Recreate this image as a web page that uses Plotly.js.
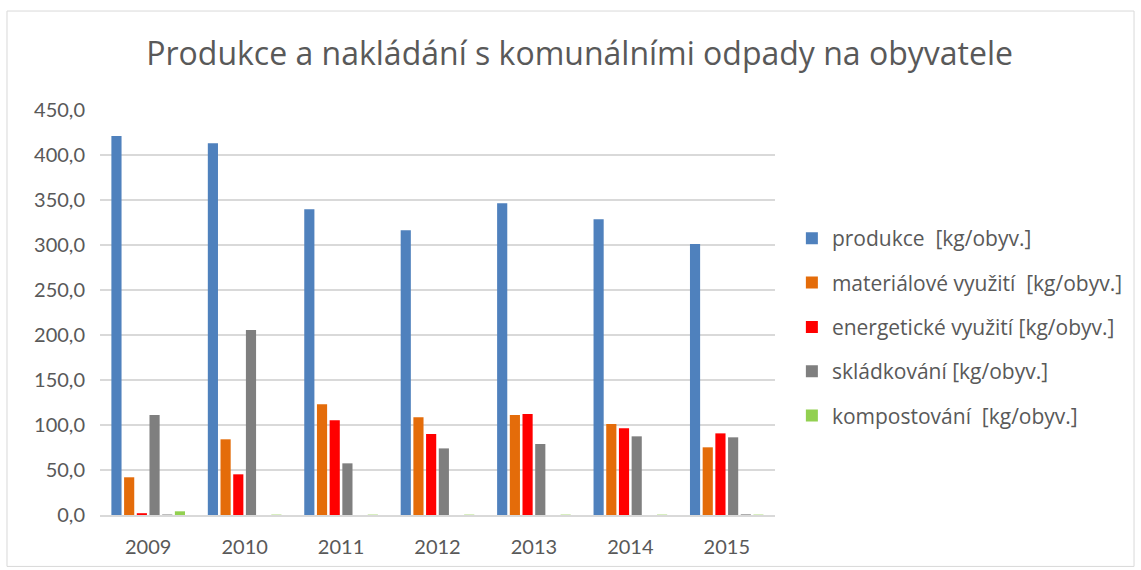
<!DOCTYPE html>
<html>
<head>
<meta charset="utf-8">
<script src="https://cdn.plot.ly/plotly-3.0.1.min.js"></script>
<style>html,body{margin:0;padding:0;background:#fff;}#chart{width:1141px;height:570px;}</style>
</head>
<body>
<div id="chart"></div>
<script>
const years = ['2009', '2010', '2011', '2012', '2013', '2014', '2015'];
const produkce = [421.1, 413.0, 339.7, 316.5, 346.3, 328.5, 301.1];
const materialove = [41.9, 84.1, 123.0, 108.5, 111.0, 101.0, 75.2];
const energeticke = [2.0, 45.2, 105.2, 90.0, 112.2, 96.3, 90.7];
const skladkovani = [111.1, 205.6, 57.4, 74.0, 78.9, 87.4, 86.3];
const ostatni = [0.8, 0, 0, 0, 0, 0, 1.0];
const kompostovani = [4.1, 0.4, 0.4, 0.4, 0.4, 0.4, 0.4];

const names = ['produkce  [kg/obyv.]', 'materiálové využití  [kg/obyv.]', 'energetické využití [kg/obyv.]', 'skládkování [kg/obyv.]', '', 'kompostování  [kg/obyv.]'];
const series = [produkce, materialove, energeticke, skladkovani, ostatni, kompostovani];
const colors = ['#4F81BD', '#E46C0A', '#FF0000', '#7F7F7F', '#A5A5A5', '#92D050'];

const traces = series.map((s, i) => ({
  type: 'bar', x: years, y: s, name: names[i],
  marker: {color: colors[i]},
  showlegend: names[i] !== '',
  legendgroup: 'g' + i,
  hoverinfo: 'x+y'
}));

const font = 'Lato, "Open Sans", sans-serif';
const font2 = '"Open Sans", Lato, sans-serif';
const layout = {
  width: 1141, height: 570,
  paper_bgcolor: '#fff', plot_bgcolor: '#fff',
  separators: ', ',
  margin: {l: 100, r: 366, t: 110, b: 55},
  title: {text: 'Produkce a nakládání s komunálními odpady na obyvatele', font: {family: font2, size: 32, color: '#595959'}, x: 0.508, xanchor: 'center', y: 0.905, yanchor: 'middle'},
  barmode: 'group', bargap: 0.21, bargroupgap: 0.2,
  xaxis: {type: 'category', tickfont: {family: font, size: 20, color: '#595959'}, ticks: '', showline: true, linecolor: '#D9D9D9', linewidth: 1.5, ticklabelstandoff: 13},
  yaxis: {range: [0, 450], dtick: 50, tickformat: '.1f', tickfont: {family: font, size: 20, color: '#595959'}, gridcolor: '#D9D9D9', gridwidth: 1.5, zeroline: false, showline: false, ticks: '', ticklabelstandoff: 14},
  legend: {x: 1.025, y: 0.733, xanchor: 'left', yanchor: 'top', font: {family: font2, size: 21, color: '#595959'}, tracegroupgap: 14, itemclick: false},
  shapes: [{type: 'rect', xref: 'paper', yref: 'paper', x0: -0.1378, x1: 1.5319, y0: -0.127, y1: 1.2444, line: {color: '#D9D9D9', width: 1}}]
};

Plotly.newPlot('chart', traces, layout, {staticPlot: true, displayModeBar: false});
</script>
</body>
</html>
